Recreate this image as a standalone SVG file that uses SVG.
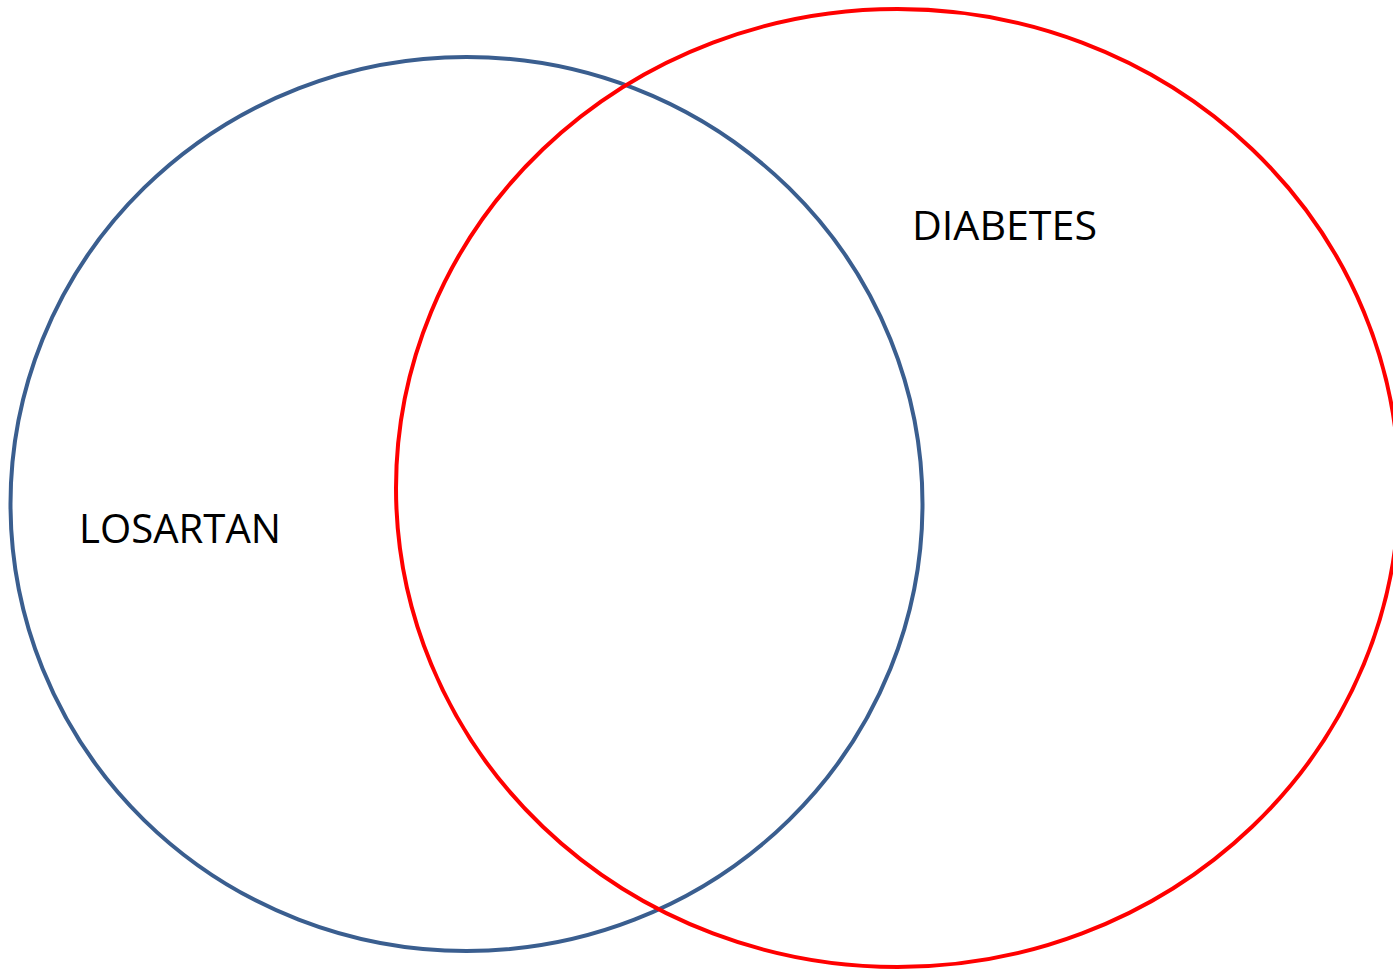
<svg xmlns="http://www.w3.org/2000/svg" width="1393" height="969" viewBox="0 0 1393 969">
<style>
.set{fill:none;stroke-width:4}
.lbl{font-family:"Open Sans","Liberation Sans",sans-serif;font-size:40px;fill:#000}
</style>
<rect width="1393" height="969" fill="#fff"/>
<g id="losartan">
<ellipse class="set" cx="466.5" cy="504" rx="456" ry="447" stroke="#3a5e8f"/>
<text class="lbl" x="79" y="543" textLength="202" lengthAdjust="spacingAndGlyphs">LOSARTAN</text>
</g>
<g id="diabetes">
<ellipse class="set" cx="897.5" cy="488" rx="501.5" ry="479" stroke="#ff0000"/>
<text class="lbl" x="912" y="240" textLength="185" lengthAdjust="spacingAndGlyphs">DIABETES</text>
</g>
<g id="connectors"/>
</svg>
